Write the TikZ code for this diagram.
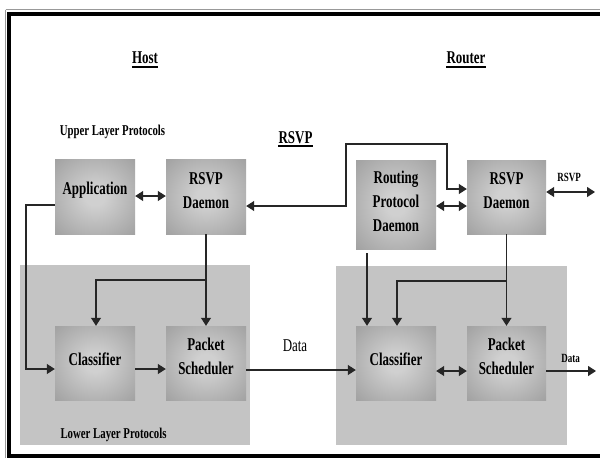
\documentclass[tikz,border=0pt]{standalone}
\usepackage{fontspec}
\setmainfont[FakeStretch=0.72]{Liberation Serif}
\usetikzlibrary{arrows.meta}
\definecolor{bxin}{RGB}{208,208,208}
\definecolor{bxout}{RGB}{138,138,138}
\definecolor{regiongray}{RGB}{196,196,196}
\pgfdeclareradialshading{boxsh}{\pgfpoint{0bp}{0bp}}{color(0bp)=(bxin); color(6bp)=(bxin); color(50bp)=(bxout); color(72bp)=(bxout)}
\tikzset{
  box/.style={shading=boxsh, minimum width=80pt, minimum height=75pt, inner sep=0pt},
  boxtxt/.style={font=\bfseries\fontsize{18}{24}\selectfont, align=center, inner sep=0pt},
  title/.style={font=\bfseries\fontsize{18}{22}\selectfont, inner sep=0pt, anchor=base},
  small/.style={font=\bfseries\fontsize{15}{18}\selectfont, inner sep=0pt, anchor=base},
  tiny/.style={font=\bfseries\fontsize{12.5}{15}\selectfont, inner sep=0pt, anchor=base},
  conn/.style={line width=1.2pt, draw=black!85},
  ar/.style={conn, -{Triangle[length=8pt,width=10pt]}},
  dar/.style={conn, {Triangle[length=8pt,width=10pt]}-{Triangle[length=8pt,width=10pt]}},
  uline/.style={line width=2pt}
}
\begin{document}
\begin{tikzpicture}[x=1pt,y=-1pt]
\useasboundingbox (0,0) rectangle (600,458);
\fill[white] (0,0) rectangle (600,458);
% frame
\draw[black!40, line width=0.6pt] (5.5,9.5) -- (603,9.5);
\draw[black!40, line width=0.6pt] (5,9.5) -- (5,460);
\draw[line width=4pt] (8.5,13.5) rectangle (603,456);
% regions
\fill[regiongray] (20,265) rectangle (250,445);
\fill[regiongray] (336,266) rectangle (567,445);
% boxes
\node[box] (app) at (95,196.5) {};
\node[box] (hd) at (206,196.5) {};
\node[box, minimum height=74pt] (hcl) at (95,363) {};
\node[box, minimum height=74pt] (hps) at (206,363) {};
\node[box, minimum height=89pt] (rpd) at (396,204.5) {};
\node[box, minimum width=79pt, minimum height=74pt] (rd) at (506.5,197) {};
\node[box, minimum height=74pt] (rcl) at (396,363) {};
\node[box, minimum width=79pt, minimum height=74pt] (rps) at (506.5,363) {};
% box texts
\node[boxtxt, yshift=6pt] (tapp) at (app) {Application};
\node[boxtxt, yshift=6pt] (thd) at (hd) {RSVP\\Daemon};
\node[boxtxt, yshift=4pt] (thcl) at (hcl) {Classifier};
\node[boxtxt, yshift=7pt] (thps) at (hps) {Packet\\Scheduler};
\node[boxtxt, yshift=3pt] (trpd) at (rpd) {Routing\\Protocol\\Daemon};
\node[boxtxt, yshift=6pt] (trd) at (rd) {RSVP\\Daemon};
\node[boxtxt, yshift=4pt] (trcl) at (rcl) {Classifier};
\node[boxtxt, yshift=7pt] (trps) at (rps) {Packet\\Scheduler};
% titles
\node[title] (host) at (145,63) {Host};
\draw[uline] ([yshift=-4pt]host.base west) -- ([yshift=-4pt]host.base east);
\node[title] (router) at (466,63) {Router};
\draw[uline] ([yshift=-4pt]router.base west) -- ([yshift=-4pt]router.base east);
\node[title] (rsvp) at (295.5,143) {RSVP};
\draw[uline] ([yshift=-3pt]rsvp.base west) -- ([yshift=-3pt]rsvp.base east);
\node[small] (ulp) at (112.5,135) {Upper Layer Protocols};
\node[small] (llp) at (113.5,438) {Lower Layer Protocols};
\node[font=\fontsize{18}{22}\selectfont, inner sep=0pt, anchor=base] (data1) at (295,351) {Data};
\node[tiny] (rsvpr) at (569,181) {RSVP};
\node[tiny] (data2) at (570.5,362) {Data};
% external ends
\coordinate (extr) at (595,192);
\coordinate (extd) at (596,371);
% connectors
\draw[dar] (app.east |- 0,196) -- (hd.west |- 0,196);
\draw[dar] (hd.east |- 0,206) -- (346,206) -- (346,144) -- (447,144) -- (447,189) -- (rd.west |- 0,189);
\draw[dar] (rpd.east |- 0,206) -- (rd.west |- 0,206);
\draw[dar] (rd.east |- 0,192) -- (extr);
\draw[ar] (app.west |- 0,205) -- (26,205) -- (26,369) -- (hcl.west |- 0,369);
\draw[ar] (hd.south) -- (hps.north);
\draw[ar] (hd.south |- 0,280) -- (96,280) -- (hcl.north -| 96,0);
\draw[ar] (hcl.east |- 0,369) -- (hps.west |- 0,369);
\draw[ar] (hps.east |- 0,370) -- (rcl.west |- 0,370);
\draw[ar] (rpd.south -| 367,0) ++(0,4) -- (rcl.north -| 367,0);
\draw[ar] (rd.south) -- (rps.north);
\draw[ar] (rd.south |- 0,281) -- (397,281) -- (rcl.north -| 397,0);
\draw[dar] (rcl.east |- 0,371) -- (rps.west |- 0,371);
\draw[ar] (rps.east |- 0,371) -- (extd);
\end{tikzpicture}
\end{document}
